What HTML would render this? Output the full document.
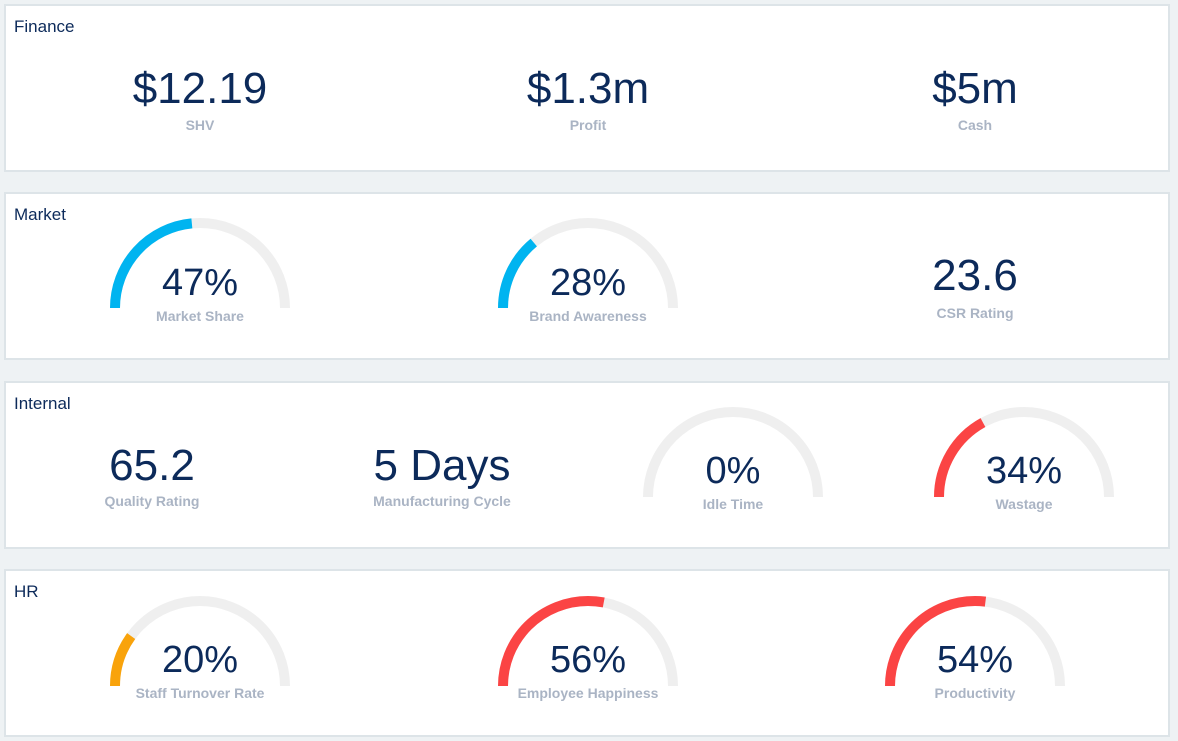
<!DOCTYPE html>
<html><head><meta charset="utf-8"><style>
html,body{margin:0;padding:0;background:#eef2f4;}
svg{display:block;}
text{font-family:"Liberation Sans",sans-serif;}
.t{font-size:17px;fill:#0c2a5a;}
.n{font-size:44px;fill:#0c2a5a;text-anchor:middle;}
.g{font-size:38px;fill:#0c2a5a;text-anchor:middle;}
.l{font-size:14px;fill:#aab4c4;font-weight:bold;text-anchor:middle;}
.p{fill:#fff;stroke:#dde4e8;stroke-width:2;}
.bg{fill:none;stroke:#efefef;stroke-width:10;}
</style></head><body>
<svg width="1178" height="741" viewBox="0 0 1178 741">
<rect x="5" y="5" width="1164" height="166" class="p"/>
<rect x="5" y="193" width="1164" height="166" class="p"/>
<rect x="5" y="382" width="1164" height="166" class="p"/>
<rect x="5" y="570" width="1164" height="166" class="p"/>
<text x="14" y="32" class="t">Finance</text>
<text x="14" y="220" class="t">Market</text>
<text x="14" y="409" class="t">Internal</text>
<text x="14" y="597" class="t">HR</text>

<text x="200" y="103" class="n">$12.19</text><text x="200" y="130" class="l">SHV</text>
<text x="588" y="103" class="n">$1.3m</text><text x="588" y="130" class="l">Profit</text>
<text x="975" y="103" class="n">$5m</text><text x="975" y="130" class="l">Cash</text>

<!-- Market -->
<path d="M115 308 A85 85 0 0 1 285 308" class="bg"/>
<path d="M115 308 A85 85 0 0 1 285 308" pathLength="100" fill="none" stroke="#00b4f0" stroke-width="10" stroke-dasharray="47 200"/>
<text x="200" y="295" class="g">47%</text><text x="200" y="321" class="l">Market Share</text>
<path d="M503 308 A85 85 0 0 1 673 308" class="bg"/>
<path d="M503 308 A85 85 0 0 1 673 308" pathLength="100" fill="none" stroke="#00b4f0" stroke-width="10" stroke-dasharray="28 200"/>
<text x="588" y="295" class="g">28%</text><text x="588" y="321" class="l">Brand Awareness</text>
<text x="975" y="290" class="n">23.6</text><text x="975" y="318" class="l">CSR Rating</text>

<!-- Internal -->
<text x="152" y="480" class="n">65.2</text><text x="152" y="506" class="l">Quality Rating</text>
<text x="442" y="480" class="n">5 Days</text><text x="442" y="506" class="l">Manufacturing Cycle</text>
<path d="M648 497 A85 85 0 0 1 818 497" class="bg"/>
<text x="733" y="483" class="g">0%</text><text x="733" y="509" class="l">Idle Time</text>
<path d="M939 497 A85 85 0 0 1 1109 497" class="bg"/>
<path d="M939 497 A85 85 0 0 1 1109 497" pathLength="100" fill="none" stroke="#fb4444" stroke-width="10" stroke-dasharray="34 200"/>
<text x="1024" y="483" class="g">34%</text><text x="1024" y="509" class="l">Wastage</text>

<!-- HR -->
<path d="M115 686 A85 85 0 0 1 285 686" class="bg"/>
<path d="M115 686 A85 85 0 0 1 285 686" pathLength="100" fill="none" stroke="#f9a30b" stroke-width="10" stroke-dasharray="20 200"/>
<text x="200" y="672" class="g">20%</text><text x="200" y="698" class="l">Staff Turnover Rate</text>
<path d="M503 686 A85 85 0 0 1 673 686" class="bg"/>
<path d="M503 686 A85 85 0 0 1 673 686" pathLength="100" fill="none" stroke="#fb4444" stroke-width="10" stroke-dasharray="56 200"/>
<text x="588" y="672" class="g">56%</text><text x="588" y="698" class="l">Employee Happiness</text>
<path d="M890 686 A85 85 0 0 1 1060 686" class="bg"/>
<path d="M890 686 A85 85 0 0 1 1060 686" pathLength="100" fill="none" stroke="#fb4444" stroke-width="10" stroke-dasharray="54 200"/>
<text x="975" y="672" class="g">54%</text><text x="975" y="698" class="l">Productivity</text>
</svg>
</body></html>
